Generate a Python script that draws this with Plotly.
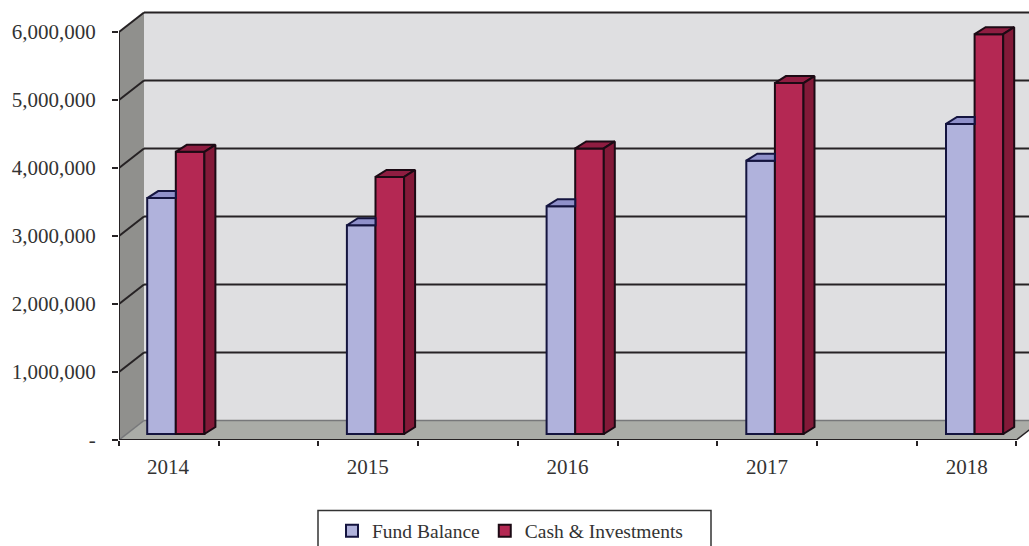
import plotly.graph_objects as go

years = ["2014", "2015", "2016", "2017", "2018"]
fund_balance = [3470000, 3070000, 3350000, 4020000, 4560000]
cash_investments = [4150000, 3780000, 4200000, 5160000, 5880000]
y_ticks = [0, 1000000, 2000000, 3000000, 4000000, 5000000, 6000000]
y_labels = ["-", "1,000,000", "2,000,000", "3,000,000", "4,000,000", "5,000,000", "6,000,000"]

W, H = 1029, 546
ML, MR, MT, MB = 119, 0, 5, 106
UX = 199.7          # px per category
UY = 68 / 1e6       # px per unit
TICK_STEP = 99.7 / UX
X0 = (119 - 168) / UX          # left end of the front floor edge, in category units
XEND = X0 + 9 * TICK_STEP      # right end of the front floor edge
XMAX = (W - 168) / UX
YMAX = (H - MB - MT) / UY


def px_x(p):
    return p / UX


def px_y(p):
    return p / UY


BACK_X, BACK_Y = px_x(25), px_y(19.5)
DEP_X, DEP_Y = px_x(11), px_y(7)
BAR_BASE = px_y(6)
BAR_W = px_x(28.6)
F_OFF = px_x(-20.8)
C_OFF = F_OFF + BAR_W

WALL = "#dfdfe1"
LEFT_WALL = "#90908d"
FLOOR = "#aaaca7"
GRID = "#262224"
TXT = "#333333"
F_FRONT, F_TOP, F_LINE = "#b0b2dc", "#8f90ca", "#14143f"
C_FRONT, C_TOP, C_SIDE, C_LINE = "#b42853", "#8f1d41", "#831938", "#1c0a14"

shapes = []


def poly(pts, fill, width=0, color=None):
    d = "M" + " L".join(f"{x},{y}" for x, y in pts) + " Z"
    shapes.append(dict(type="path", path=d, xref="x", yref="y", layer="below",
                       fillcolor=fill, line=dict(width=width, color=color or fill)))


def seg(x0, y0, x1, y1, color=GRID, width=2):
    shapes.append(dict(type="line", xref="x", yref="y", layer="below", x0=x0, y0=y0, x1=x1, y1=y1,
                       line=dict(color=color, width=width)))


top_val = y_ticks[-1]
# back wall, left wall, floor
poly([(X0 + BACK_X, BACK_Y), (XEND + BACK_X, BACK_Y), (XEND + BACK_X, top_val + BACK_Y), (X0 + BACK_X, top_val + BACK_Y)], WALL)
poly([(X0, 0), (X0 + BACK_X, BACK_Y), (X0 + BACK_X, top_val + BACK_Y), (X0, top_val)], LEFT_WALL)
poly([(X0, 0), (XEND, 0), (XEND + BACK_X, BACK_Y), (X0 + BACK_X, BACK_Y)], FLOOR)
# gridlines run along both walls
for v in y_ticks:
    col = "#77787a" if v == 0 else GRID
    w = 1.5 if v == 0 else 2
    seg(X0, v, X0 + BACK_X, v + BACK_Y, col, w)
    seg(X0 + BACK_X, v + BACK_Y, XEND + BACK_X, v + BACK_Y, col, w)
seg(X0, 0, X0, top_val)
seg(X0, 0, XEND, 0)
seg(XEND, 0, XEND + BACK_X, BACK_Y, GRID, 1.5)
# box round the legend
shapes.append(dict(type="rect", xref="paper", yref="paper",
                   x0=(318 - ML) / (W - ML), x1=(711 - ML) / (W - ML),
                   y0=(H - MB - 560) / (H - MB - MT), y1=(H - MB - 510.5) / (H - MB - MT),
                   line=dict(color="#333333", width=1.5), fillcolor="white", layer="below"))

xs = list(range(len(years)))
fig = go.Figure()
fig.add_bar(x=xs, y=fund_balance, base=[BAR_BASE] * len(xs), width=BAR_W, offset=F_OFF, name="Fund Balance",
            marker=dict(color=F_FRONT, line=dict(color=F_LINE, width=2)))
fig.add_bar(x=xs, y=cash_investments, base=[BAR_BASE] * len(xs), width=BAR_W, offset=C_OFF, name="Cash & Investments",
            marker=dict(color=C_FRONT, line=dict(color=C_LINE, width=2)))


def face(px, py, fill, line):
    fig.add_scatter(x=px + [px[0]], y=py + [py[0]], mode="lines", fill="toself", fillcolor=fill,
                    line=dict(color=line, width=2), showlegend=False, hoverinfo="skip")


for i in xs:
    fl, fr = i + F_OFF, i + F_OFF + BAR_W
    cl, cr = i + C_OFF, i + C_OFF + BAR_W
    ft = BAR_BASE + fund_balance[i]
    ct = BAR_BASE + cash_investments[i]
    face([fl, fr, fr, fl + DEP_X], [ft, ft, ft + DEP_Y, ft + DEP_Y], F_TOP, F_LINE)
    face([cl, cr, cr + DEP_X, cl + DEP_X], [ct, ct, ct + DEP_Y, ct + DEP_Y], C_TOP, C_LINE)
    face([cr, cr + DEP_X, cr + DEP_X, cr], [BAR_BASE, BAR_BASE + DEP_Y, ct + DEP_Y, ct], C_SIDE, C_LINE)

minor_ticks = [X0 + k * TICK_STEP for k in range(10)]
fig.update_layout(
    width=W, height=H, margin=dict(l=ML, r=MR, t=MT, b=MB, autoexpand=False),
    paper_bgcolor="white", plot_bgcolor="white", barmode="overlay", shapes=shapes,
    font=dict(family="Liberation Serif", size=21, color=TXT),
    xaxis=dict(range=[X0, XMAX], tickmode="array", tickvals=xs, ticktext=years, ticks="", showgrid=False,
               zeroline=False, showline=False, ticklabelstandoff=12,
               minor=dict(tickmode="array", tickvals=minor_ticks, ticks="outside", ticklen=5, tickwidth=1.5,
                          tickcolor=GRID, showgrid=False)),
    yaxis=dict(range=[0, YMAX], tickmode="array", tickvals=y_ticks, ticktext=y_labels, ticks="outside", ticklen=6,
               tickwidth=1.5, tickcolor=GRID, showgrid=False, zeroline=False, showline=False, ticklabelstandoff=12),
    legend=dict(orientation="h", x=(332 - ML) / (W - ML), xanchor="left",
                y=(H - MB - 531) / (H - MB - MT), yanchor="middle", bgcolor="rgba(0,0,0,0)",
                font=dict(size=19.5)),
    hovermode=False,
)
fig.write_html("out.html", config=dict(displayModeBar=False),
               post_script="document.body.style.margin='0';document.documentElement.style.overflow='hidden';")
